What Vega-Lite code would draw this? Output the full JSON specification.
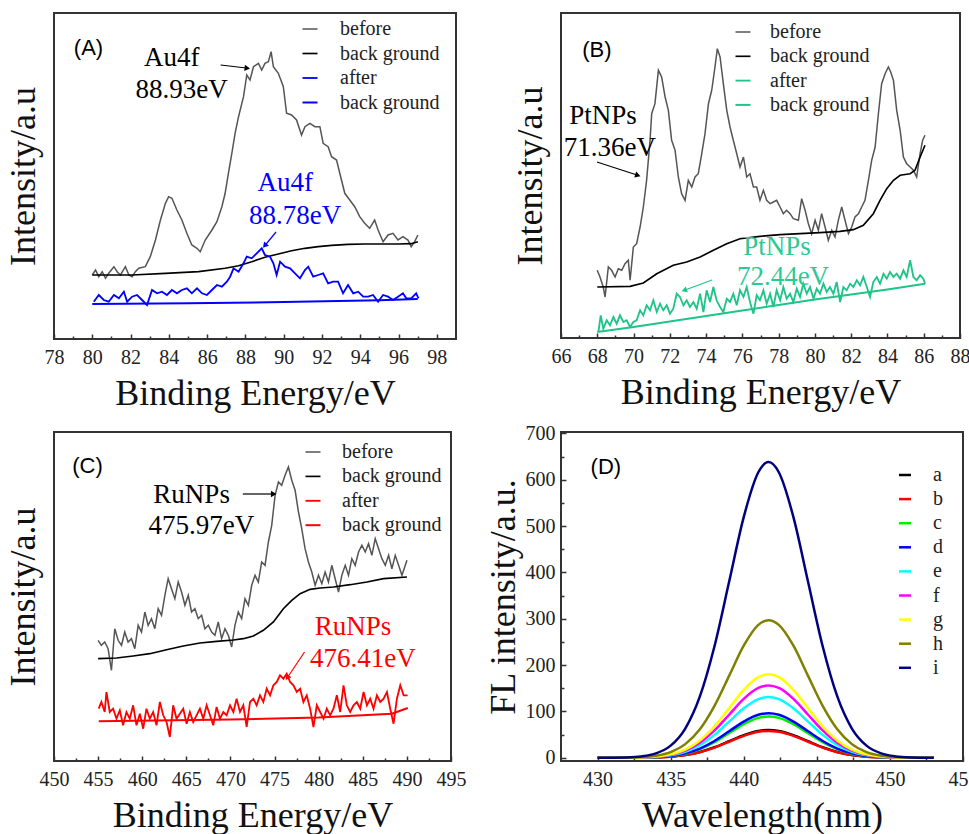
{
"$schema":"https://vega.github.io/schema/vega-lite/v6.json",
"padding":{"left":4,"top":12,"right":0,"bottom":0},
"config":{
 "font":"Liberation Serif",
 "view":{"stroke":"#333333","strokeWidth":2},
 "axis":{"grid":false,"domain":false,"labelFont":"Liberation Serif","labelFontSize":20,"labelColor":"#222222","titleFont":"Liberation Serif","titleFontSize":36,"titleFontWeight":"normal","titleColor":"#111111","tickColor":"#333333","tickWidth":1.5,"labelFlush":false,"labelOverlap":false},
 "legend":{"orient":"none","labelFont":"Liberation Serif","labelFontSize":20,"labelColor":"#222222","symbolType":"stroke","padding":0,"title":null},
 "text":{"font":"Liberation Serif","fontSize":27}
},
"datasets":{
"A":[
{"s":"before","x":80.00,"y":64},{"s":"before","x":80.17,"y":69},{"s":"before","x":80.34,"y":62.3},{"s":"before","x":80.52,"y":67.3},{"s":"before","x":80.69,"y":60.7},{"s":"before","x":80.86,"y":65.7},{"s":"before","x":81.13,"y":72.3},{"s":"before","x":81.30,"y":67.3},{"s":"before","x":81.47,"y":64},{"s":"before","x":81.73,"y":72.3},{"s":"before","x":81.91,"y":64},{"s":"before","x":82.08,"y":62.3},{"s":"before","x":82.25,"y":67.3},{"s":"before","x":82.43,"y":70.7},{"s":"before","x":82.77,"y":72.3},{"s":"before","x":83.03,"y":82.3},{"s":"before","x":83.30,"y":99},{"s":"before","x":83.56,"y":119},{"s":"before","x":83.82,"y":135.7},{"s":"before","x":83.99,"y":142.3},{"s":"before","x":84.16,"y":140.7},{"s":"before","x":84.42,"y":129},{"s":"before","x":84.68,"y":119},{"s":"before","x":84.94,"y":105.7},{"s":"before","x":85.20,"y":94},{"s":"before","x":85.47,"y":90.7},{"s":"before","x":85.64,"y":87.3},{"s":"before","x":85.90,"y":99},{"s":"before","x":86.25,"y":109},{"s":"before","x":86.51,"y":117.3},{"s":"before","x":86.77,"y":132.3},{"s":"before","x":86.94,"y":145.7},{"s":"before","x":87.11,"y":165.7},{"s":"before","x":87.29,"y":185.7},{"s":"before","x":87.46,"y":205.7},{"s":"before","x":87.64,"y":222.3},{"s":"before","x":87.90,"y":242.3},{"s":"before","x":88.07,"y":264},{"s":"before","x":88.24,"y":259},{"s":"before","x":88.42,"y":272.3},{"s":"before","x":88.68,"y":275.7},{"s":"before","x":88.85,"y":269},{"s":"before","x":89.02,"y":275.7},{"s":"before","x":89.20,"y":277.3},{"s":"before","x":89.34,"y":287.3},{"s":"before","x":89.46,"y":272.3},{"s":"before","x":89.72,"y":265.7},{"s":"before","x":89.98,"y":252.3},{"s":"before","x":90.15,"y":225.7},{"s":"before","x":90.41,"y":224},{"s":"before","x":90.67,"y":219},{"s":"before","x":90.93,"y":204},{"s":"before","x":91.11,"y":212.3},{"s":"before","x":91.37,"y":215.7},{"s":"before","x":91.63,"y":212.3},{"s":"before","x":91.89,"y":212.3},{"s":"before","x":92.06,"y":195.7},{"s":"before","x":92.32,"y":192.3},{"s":"before","x":92.50,"y":182.3},{"s":"before","x":92.76,"y":179},{"s":"before","x":92.93,"y":165.7},{"s":"before","x":93.19,"y":145.7},{"s":"before","x":93.45,"y":139},{"s":"before","x":93.71,"y":132.3},{"s":"before","x":93.97,"y":122.3},{"s":"before","x":94.23,"y":115.7},{"s":"before","x":94.49,"y":110.7},{"s":"before","x":94.75,"y":119},{"s":"before","x":94.93,"y":109},{"s":"before","x":95.19,"y":97.3},{"s":"before","x":95.45,"y":104},{"s":"before","x":95.71,"y":105.7},{"s":"before","x":95.97,"y":99},{"s":"before","x":96.23,"y":102.3},{"s":"before","x":96.49,"y":99},{"s":"before","x":96.66,"y":92.3},{"s":"before","x":96.84,"y":97.3},{"s":"before","x":97.01,"y":104},
{"s":"bg","x":80.0,"y":64},{"s":"bg","x":82.08,"y":64},{"s":"bg","x":83.82,"y":65.7},{"s":"bg","x":85.55,"y":67.3},{"s":"bg","x":86.94,"y":70.7},{"s":"bg","x":87.64,"y":73.3},{"s":"bg","x":88.33,"y":77.3},{"s":"bg","x":89.02,"y":81.7},{"s":"bg","x":89.72,"y":85},{"s":"bg","x":90.41,"y":88.3},{"s":"bg","x":91.11,"y":90.7},{"s":"bg","x":91.80,"y":92.3},{"s":"bg","x":92.50,"y":93.7},{"s":"bg","x":93.36,"y":94.7},{"s":"bg","x":94.23,"y":95},{"s":"bg","x":95.10,"y":95},{"s":"bg","x":95.97,"y":95},{"s":"bg","x":96.66,"y":95.3},{"s":"bg","x":97.01,"y":97.3},
{"s":"after","x":80.08,"y":37.3},{"s":"after","x":80.34,"y":44},{"s":"after","x":80.60,"y":39},{"s":"after","x":80.86,"y":37.3},{"s":"after","x":81.13,"y":44},{"s":"after","x":81.39,"y":40.7},{"s":"after","x":81.65,"y":47.3},{"s":"after","x":81.82,"y":37.3},{"s":"after","x":82.08,"y":42.3},{"s":"after","x":82.34,"y":44},{"s":"after","x":82.60,"y":39},{"s":"after","x":82.86,"y":34},{"s":"after","x":83.12,"y":49},{"s":"after","x":83.38,"y":45.7},{"s":"after","x":83.64,"y":47.3},{"s":"after","x":83.90,"y":44},{"s":"after","x":84.16,"y":49},{"s":"after","x":84.42,"y":45.7},{"s":"after","x":84.68,"y":49},{"s":"after","x":84.94,"y":50.7},{"s":"after","x":85.20,"y":45.7},{"s":"after","x":85.47,"y":50.7},{"s":"after","x":85.73,"y":45.7},{"s":"after","x":85.99,"y":44},{"s":"after","x":86.25,"y":49},{"s":"after","x":86.51,"y":54},{"s":"after","x":86.77,"y":52.3},{"s":"after","x":87.03,"y":57.3},{"s":"after","x":87.20,"y":62.3},{"s":"after","x":87.38,"y":70.7},{"s":"after","x":87.64,"y":67.3},{"s":"after","x":87.90,"y":75.7},{"s":"after","x":88.07,"y":82.3},{"s":"after","x":88.33,"y":80.7},{"s":"after","x":88.59,"y":85.7},{"s":"after","x":88.85,"y":90.7},{"s":"after","x":89.02,"y":84},{"s":"after","x":89.28,"y":82.3},{"s":"after","x":89.46,"y":75.7},{"s":"after","x":89.63,"y":64},{"s":"after","x":89.81,"y":77.3},{"s":"after","x":90.07,"y":72.3},{"s":"after","x":90.33,"y":70.7},{"s":"after","x":90.59,"y":65.7},{"s":"after","x":90.85,"y":60.7},{"s":"after","x":91.11,"y":69},{"s":"after","x":91.28,"y":72.3},{"s":"after","x":91.54,"y":62.3},{"s":"after","x":91.80,"y":64},{"s":"after","x":92.06,"y":65.7},{"s":"after","x":92.32,"y":55.7},{"s":"after","x":92.58,"y":57.3},{"s":"after","x":92.84,"y":57.3},{"s":"after","x":93.10,"y":45.7},{"s":"after","x":93.36,"y":54},{"s":"after","x":93.63,"y":45.7},{"s":"after","x":93.89,"y":47.3},{"s":"after","x":94.15,"y":42.3},{"s":"after","x":94.41,"y":42.3},{"s":"after","x":94.67,"y":44},{"s":"after","x":94.93,"y":37.3},{"s":"after","x":95.19,"y":44},{"s":"after","x":95.45,"y":42.3},{"s":"after","x":95.71,"y":39},{"s":"after","x":95.97,"y":42.3},{"s":"after","x":96.23,"y":45.7},{"s":"after","x":96.40,"y":40.7},{"s":"after","x":96.66,"y":40.7},{"s":"after","x":96.92,"y":45.7},{"s":"after","x":97.04,"y":40.7},
{"s":"bg2","x":80.0,"y":35},{"s":"bg2","x":85.0,"y":35.7},{"s":"bg2","x":90.0,"y":37},{"s":"bg2","x":95.0,"y":38.7},{"s":"bg2","x":97.0,"y":40}
],
"Atx":[{"x":84.15,"y":281,"t":"Au4f","g":"before"},{"x":84.67,"y":249,"t":"88.93eV","g":"before"},{"x":90.08,"y":156,"t":"Au4f","g":"after"},{"x":90.6,"y":123,"t":"88.78eV","g":"after"}],
"Aar":[{"x":86.7,"y":274,"x2":88.05,"y2":271,"g":"before"},{"x":89.6,"y":107,"x2":89.04,"y2":94,"g":"after"}],
"B":[
{"s":"before","x":68.00,"y":67.7},{"s":"before","x":68.15,"y":61},{"s":"before","x":68.33,"y":51},{"s":"before","x":68.43,"y":41},{"s":"before","x":68.61,"y":71},{"s":"before","x":68.79,"y":67.7},{"s":"before","x":68.98,"y":61},{"s":"before","x":69.16,"y":69.3},{"s":"before","x":69.35,"y":67.7},{"s":"before","x":69.53,"y":74.3},{"s":"before","x":69.71,"y":77.7},{"s":"before","x":69.81,"y":57.7},{"s":"before","x":69.99,"y":91},{"s":"before","x":70.17,"y":94.3},{"s":"before","x":70.36,"y":111},{"s":"before","x":70.54,"y":131},{"s":"before","x":70.72,"y":157.7},{"s":"before","x":70.91,"y":197.7},{"s":"before","x":71.00,"y":224.3},{"s":"before","x":71.18,"y":234.3},{"s":"before","x":71.37,"y":267.7},{"s":"before","x":71.55,"y":261},{"s":"before","x":71.74,"y":241},{"s":"before","x":71.92,"y":227.7},{"s":"before","x":72.10,"y":197.7},{"s":"before","x":72.29,"y":187.7},{"s":"before","x":72.47,"y":161},{"s":"before","x":72.65,"y":144.3},{"s":"before","x":72.84,"y":137.7},{"s":"before","x":73.02,"y":157.7},{"s":"before","x":73.21,"y":151},{"s":"before","x":73.39,"y":161},{"s":"before","x":73.57,"y":164.3},{"s":"before","x":73.76,"y":184.3},{"s":"before","x":73.94,"y":204.3},{"s":"before","x":74.13,"y":234.3},{"s":"before","x":74.31,"y":247.7},{"s":"before","x":74.49,"y":271},{"s":"before","x":74.62,"y":289.3},{"s":"before","x":74.77,"y":281},{"s":"before","x":74.95,"y":254.3},{"s":"before","x":75.14,"y":227.7},{"s":"before","x":75.32,"y":211},{"s":"before","x":75.50,"y":197.7},{"s":"before","x":75.69,"y":184.3},{"s":"before","x":75.87,"y":171},{"s":"before","x":76.06,"y":181},{"s":"before","x":76.24,"y":161},{"s":"before","x":76.42,"y":164.3},{"s":"before","x":76.61,"y":151},{"s":"before","x":76.79,"y":151},{"s":"before","x":76.97,"y":137.7},{"s":"before","x":77.16,"y":147.7},{"s":"before","x":77.34,"y":137.7},{"s":"before","x":77.53,"y":134.3},{"s":"before","x":77.71,"y":136},{"s":"before","x":77.89,"y":137.7},{"s":"before","x":78.08,"y":131},{"s":"before","x":78.26,"y":124.3},{"s":"before","x":78.44,"y":127.7},{"s":"before","x":78.63,"y":124.3},{"s":"before","x":78.81,"y":119.3},{"s":"before","x":79.09,"y":117.7},{"s":"before","x":79.27,"y":139.3},{"s":"before","x":79.46,"y":127.7},{"s":"before","x":79.64,"y":114.3},{"s":"before","x":79.82,"y":104.3},{"s":"before","x":80.01,"y":117.7},{"s":"before","x":80.19,"y":107.7},{"s":"before","x":80.37,"y":124.3},{"s":"before","x":80.56,"y":111},{"s":"before","x":80.74,"y":97.7},{"s":"before","x":80.93,"y":107.7},{"s":"before","x":81.11,"y":101},{"s":"before","x":81.29,"y":117.7},{"s":"before","x":81.48,"y":131},{"s":"before","x":81.66,"y":117.7},{"s":"before","x":81.85,"y":104.3},{"s":"before","x":82.03,"y":111},{"s":"before","x":82.21,"y":121},{"s":"before","x":82.40,"y":124.3},{"s":"before","x":82.58,"y":131},{"s":"before","x":82.76,"y":137.7},{"s":"before","x":82.95,"y":157.7},{"s":"before","x":83.13,"y":177.7},{"s":"before","x":83.32,"y":191},{"s":"before","x":83.50,"y":224.3},{"s":"before","x":83.68,"y":254.3},{"s":"before","x":83.87,"y":264.3},{"s":"before","x":84.05,"y":271},{"s":"before","x":84.18,"y":266},{"s":"before","x":84.33,"y":257.7},{"s":"before","x":84.51,"y":227.7},{"s":"before","x":84.70,"y":207.7},{"s":"before","x":84.88,"y":181},{"s":"before","x":85.06,"y":174.3},{"s":"before","x":85.25,"y":171},{"s":"before","x":85.43,"y":167.7},{"s":"before","x":85.61,"y":161},{"s":"before","x":85.80,"y":184.3},{"s":"before","x":85.94,"y":197.7},{"s":"before","x":86.07,"y":202.7},
{"s":"bg","x":68.00,"y":51},{"s":"bg","x":69.81,"y":51.7},{"s":"bg","x":70.54,"y":55},{"s":"bg","x":71.28,"y":64.3},{"s":"bg","x":72.19,"y":72.7},{"s":"bg","x":72.93,"y":76},{"s":"bg","x":73.67,"y":81},{"s":"bg","x":74.40,"y":87.7},{"s":"bg","x":75.14,"y":94.3},{"s":"bg","x":75.87,"y":99.3},{"s":"bg","x":76.97,"y":101.7},{"s":"bg","x":78.08,"y":103.3},{"s":"bg","x":79.18,"y":104.3},{"s":"bg","x":80.28,"y":105.3},{"s":"bg","x":81.39,"y":106.7},{"s":"bg","x":82.12,"y":108.3},{"s":"bg","x":82.67,"y":112.7},{"s":"bg","x":83.22,"y":124.3},{"s":"bg","x":83.59,"y":137.7},{"s":"bg","x":83.96,"y":149.3},{"s":"bg","x":84.33,"y":157.7},{"s":"bg","x":84.70,"y":162.7},{"s":"bg","x":85.25,"y":164.3},{"s":"bg","x":85.52,"y":167.7},{"s":"bg","x":85.80,"y":181},{"s":"bg","x":86.07,"y":192.7},
{"s":"after","x":68.06,"y":6},{"s":"after","x":68.19,"y":22.7},{"s":"after","x":68.33,"y":9.3},{"s":"after","x":68.52,"y":17.7},{"s":"after","x":68.70,"y":12.7},{"s":"after","x":68.89,"y":21},{"s":"after","x":69.07,"y":14.3},{"s":"after","x":69.25,"y":22.7},{"s":"after","x":69.44,"y":16},{"s":"after","x":69.62,"y":17.7},{"s":"after","x":69.81,"y":11},{"s":"after","x":69.99,"y":16},{"s":"after","x":70.17,"y":17.7},{"s":"after","x":70.36,"y":27.7},{"s":"after","x":70.54,"y":22.7},{"s":"after","x":70.72,"y":32.7},{"s":"after","x":70.91,"y":27.7},{"s":"after","x":71.09,"y":37.7},{"s":"after","x":71.28,"y":26},{"s":"after","x":71.46,"y":34.3},{"s":"after","x":71.64,"y":27.7},{"s":"after","x":71.83,"y":32.7},{"s":"after","x":72.01,"y":24.3},{"s":"after","x":72.19,"y":29.3},{"s":"after","x":72.38,"y":44.3},{"s":"after","x":72.56,"y":41},{"s":"after","x":72.75,"y":32.7},{"s":"after","x":72.93,"y":37.7},{"s":"after","x":73.11,"y":31},{"s":"after","x":73.30,"y":36},{"s":"after","x":73.48,"y":29.3},{"s":"after","x":73.67,"y":44.3},{"s":"after","x":73.85,"y":26},{"s":"after","x":74.03,"y":47.7},{"s":"after","x":74.22,"y":36},{"s":"after","x":74.40,"y":51},{"s":"after","x":74.58,"y":37.7},{"s":"after","x":74.77,"y":31},{"s":"after","x":74.95,"y":26},{"s":"after","x":75.14,"y":39.3},{"s":"after","x":75.32,"y":36},{"s":"after","x":75.50,"y":44.3},{"s":"after","x":75.69,"y":32.7},{"s":"after","x":75.87,"y":47.7},{"s":"after","x":76.06,"y":41},{"s":"after","x":76.24,"y":51},{"s":"after","x":76.42,"y":36},{"s":"after","x":76.61,"y":24.3},{"s":"after","x":76.79,"y":42.7},{"s":"after","x":76.97,"y":37.7},{"s":"after","x":77.16,"y":47.7},{"s":"after","x":77.34,"y":34.3},{"s":"after","x":77.53,"y":44.3},{"s":"after","x":77.71,"y":31},{"s":"after","x":77.89,"y":47.7},{"s":"after","x":78.08,"y":37.7},{"s":"after","x":78.26,"y":51},{"s":"after","x":78.44,"y":39.3},{"s":"after","x":78.63,"y":44.3},{"s":"after","x":78.81,"y":36},{"s":"after","x":79.00,"y":49.3},{"s":"after","x":79.18,"y":41},{"s":"after","x":79.36,"y":54.3},{"s":"after","x":79.55,"y":44.3},{"s":"after","x":79.73,"y":51},{"s":"after","x":79.92,"y":39.3},{"s":"after","x":80.10,"y":49.3},{"s":"after","x":80.28,"y":44.3},{"s":"after","x":80.47,"y":54.3},{"s":"after","x":80.65,"y":46},{"s":"after","x":80.83,"y":51},{"s":"after","x":81.02,"y":44.3},{"s":"after","x":81.20,"y":56},{"s":"after","x":81.39,"y":36},{"s":"after","x":81.57,"y":51},{"s":"after","x":81.75,"y":47.7},{"s":"after","x":81.94,"y":54.3},{"s":"after","x":82.12,"y":51},{"s":"after","x":82.31,"y":57.7},{"s":"after","x":82.49,"y":52.7},{"s":"after","x":82.67,"y":61},{"s":"after","x":82.86,"y":51},{"s":"after","x":83.04,"y":41},{"s":"after","x":83.22,"y":56},{"s":"after","x":83.41,"y":61},{"s":"after","x":83.59,"y":54.3},{"s":"after","x":83.78,"y":64.3},{"s":"after","x":83.96,"y":59.3},{"s":"after","x":84.14,"y":66},{"s":"after","x":84.33,"y":61},{"s":"after","x":84.51,"y":64.3},{"s":"after","x":84.70,"y":59.3},{"s":"after","x":84.88,"y":67.7},{"s":"after","x":85.06,"y":61},{"s":"after","x":85.25,"y":77.7},{"s":"after","x":85.43,"y":61},{"s":"after","x":85.61,"y":57.7},{"s":"after","x":85.80,"y":62.7},{"s":"after","x":85.98,"y":59.3},{"s":"after","x":86.07,"y":54.3},
{"s":"bg2","x":68.0,"y":6},{"s":"bg2","x":70.0,"y":11},{"s":"bg2","x":72.0,"y":16.5},{"s":"bg2","x":74.0,"y":22},{"s":"bg2","x":76.0,"y":27.5},{"s":"bg2","x":78.0,"y":33},{"s":"bg2","x":80.0,"y":38.5},{"s":"bg2","x":82.0,"y":43.5},{"s":"bg2","x":84.0,"y":48.5},{"s":"bg2","x":86.07,"y":54.3}
],
"Btx":[{"x":68.32,"y":222,"t":"PtNPs","g":"before"},{"x":68.7,"y":190,"t":"71.36eV","g":"before"},{"x":77.91,"y":91,"t":"PtNPs","g":"after"},{"x":78.24,"y":61,"t":"72.44eV","g":"after"}],
"Bar":[{"x":67.98,"y":176,"x2":70.19,"y2":163,"g":"before"},{"x":74.33,"y":58,"x2":72.84,"y2":48,"g":"after"}],
"C":[
{"s":"before","x":455.00,"y":120.7},{"s":"before","x":455.37,"y":115.7},{"s":"before","x":455.75,"y":119},{"s":"before","x":456.13,"y":112.3},{"s":"before","x":456.51,"y":90.7},{"s":"before","x":456.89,"y":132.3},{"s":"before","x":457.27,"y":120.7},{"s":"before","x":457.65,"y":115.7},{"s":"before","x":458.02,"y":129},{"s":"before","x":458.40,"y":119},{"s":"before","x":458.78,"y":122.3},{"s":"before","x":459.16,"y":112.3},{"s":"before","x":459.54,"y":135.7},{"s":"before","x":459.92,"y":129},{"s":"before","x":460.30,"y":149},{"s":"before","x":460.67,"y":135.7},{"s":"before","x":461.05,"y":142.3},{"s":"before","x":461.43,"y":132.3},{"s":"before","x":461.81,"y":152.3},{"s":"before","x":462.19,"y":145.7},{"s":"before","x":462.57,"y":165.7},{"s":"before","x":462.94,"y":182.3},{"s":"before","x":463.32,"y":172.3},{"s":"before","x":463.70,"y":162.3},{"s":"before","x":464.08,"y":179},{"s":"before","x":464.46,"y":169},{"s":"before","x":464.84,"y":155.7},{"s":"before","x":465.22,"y":165.7},{"s":"before","x":465.59,"y":149},{"s":"before","x":465.97,"y":152.3},{"s":"before","x":466.35,"y":142.3},{"s":"before","x":466.73,"y":145.7},{"s":"before","x":467.11,"y":132.3},{"s":"before","x":467.49,"y":135.7},{"s":"before","x":467.87,"y":129},{"s":"before","x":468.24,"y":125.7},{"s":"before","x":468.62,"y":139},{"s":"before","x":469.00,"y":122.3},{"s":"before","x":469.38,"y":132.3},{"s":"before","x":469.76,"y":125.7},{"s":"before","x":470.14,"y":114},{"s":"before","x":470.51,"y":135.7},{"s":"before","x":470.89,"y":149},{"s":"before","x":471.27,"y":142.3},{"s":"before","x":471.65,"y":162.3},{"s":"before","x":472.03,"y":155.7},{"s":"before","x":472.41,"y":175.7},{"s":"before","x":472.79,"y":185.7},{"s":"before","x":473.16,"y":179},{"s":"before","x":473.54,"y":199},{"s":"before","x":473.92,"y":195.7},{"s":"before","x":474.30,"y":219},{"s":"before","x":474.68,"y":235.7},{"s":"before","x":475.06,"y":265.7},{"s":"before","x":475.44,"y":279},{"s":"before","x":475.81,"y":275.7},{"s":"before","x":476.19,"y":285.7},{"s":"before","x":476.57,"y":294},{"s":"before","x":476.95,"y":280.7},{"s":"before","x":477.33,"y":270.7},{"s":"before","x":477.71,"y":249},{"s":"before","x":478.08,"y":232.3},{"s":"before","x":478.46,"y":212.3},{"s":"before","x":478.84,"y":199},{"s":"before","x":479.22,"y":189},{"s":"before","x":479.60,"y":175.7},{"s":"before","x":479.98,"y":185.7},{"s":"before","x":480.36,"y":177.3},{"s":"before","x":480.73,"y":189},{"s":"before","x":481.11,"y":179},{"s":"before","x":481.49,"y":195.7},{"s":"before","x":481.87,"y":182.3},{"s":"before","x":482.25,"y":169},{"s":"before","x":482.63,"y":185.7},{"s":"before","x":483.01,"y":195.7},{"s":"before","x":483.38,"y":185.7},{"s":"before","x":483.76,"y":202.3},{"s":"before","x":484.14,"y":195.7},{"s":"before","x":484.52,"y":209},{"s":"before","x":484.90,"y":215.7},{"s":"before","x":485.28,"y":209},{"s":"before","x":485.65,"y":217.3},{"s":"before","x":486.03,"y":205.7},{"s":"before","x":486.41,"y":222.3},{"s":"before","x":486.79,"y":212.3},{"s":"before","x":487.17,"y":202.3},{"s":"before","x":487.55,"y":195.7},{"s":"before","x":487.93,"y":205.7},{"s":"before","x":488.30,"y":192.3},{"s":"before","x":488.68,"y":205.7},{"s":"before","x":489.06,"y":195.7},{"s":"before","x":489.44,"y":185.7},{"s":"before","x":489.82,"y":195.7},{"s":"before","x":490.01,"y":200.7},
{"s":"bg","x":455.0,"y":102.3},{"s":"bg","x":457.08,"y":103},{"s":"bg","x":458.97,"y":105},{"s":"bg","x":460.86,"y":107.3},{"s":"bg","x":462.76,"y":111.3},{"s":"bg","x":464.65,"y":115},{"s":"bg","x":466.54,"y":118},{"s":"bg","x":468.43,"y":119.7},{"s":"bg","x":470.33,"y":121},{"s":"bg","x":471.46,"y":122.3},{"s":"bg","x":472.60,"y":125},{"s":"bg","x":473.73,"y":130.7},{"s":"bg","x":474.87,"y":139},{"s":"bg","x":476.00,"y":152.3},{"s":"bg","x":476.95,"y":160.7},{"s":"bg","x":477.90,"y":167.3},{"s":"bg","x":479.03,"y":171.7},{"s":"bg","x":480.17,"y":173},{"s":"bg","x":481.68,"y":174},{"s":"bg","x":483.57,"y":176.3},{"s":"bg","x":485.47,"y":179},{"s":"bg","x":487.36,"y":182.3},{"s":"bg","x":490.01,"y":184},
{"s":"after","x":455.07,"y":52.3},{"s":"after","x":455.37,"y":59},{"s":"after","x":455.75,"y":49},{"s":"after","x":455.94,"y":69},{"s":"after","x":456.32,"y":49},{"s":"after","x":456.70,"y":52.3},{"s":"after","x":457.08,"y":42.3},{"s":"after","x":457.46,"y":50.7},{"s":"after","x":457.83,"y":35.7},{"s":"after","x":458.21,"y":49},{"s":"after","x":458.59,"y":42.3},{"s":"after","x":458.97,"y":55.7},{"s":"after","x":459.35,"y":35.7},{"s":"after","x":459.73,"y":47.3},{"s":"after","x":460.11,"y":32.3},{"s":"after","x":460.48,"y":52.3},{"s":"after","x":460.86,"y":42.3},{"s":"after","x":461.24,"y":49},{"s":"after","x":461.62,"y":35.7},{"s":"after","x":462.00,"y":59},{"s":"after","x":462.38,"y":45.7},{"s":"after","x":462.76,"y":39},{"s":"after","x":463.13,"y":24},{"s":"after","x":463.51,"y":55.7},{"s":"after","x":463.89,"y":42.3},{"s":"after","x":464.27,"y":47.3},{"s":"after","x":464.65,"y":52.3},{"s":"after","x":465.03,"y":37.3},{"s":"after","x":465.40,"y":49},{"s":"after","x":465.78,"y":39},{"s":"after","x":466.16,"y":45.7},{"s":"after","x":466.54,"y":52.3},{"s":"after","x":466.92,"y":42.3},{"s":"after","x":467.30,"y":55.7},{"s":"after","x":467.68,"y":45.7},{"s":"after","x":468.05,"y":35.7},{"s":"after","x":468.43,"y":54},{"s":"after","x":468.81,"y":42.3},{"s":"after","x":469.19,"y":49},{"s":"after","x":469.57,"y":45.7},{"s":"after","x":469.95,"y":55.7},{"s":"after","x":470.33,"y":49},{"s":"after","x":470.70,"y":62.3},{"s":"after","x":471.08,"y":49},{"s":"after","x":471.46,"y":55.7},{"s":"after","x":471.84,"y":34},{"s":"after","x":472.22,"y":59},{"s":"after","x":472.60,"y":62.3},{"s":"after","x":472.97,"y":55.7},{"s":"after","x":473.35,"y":65.7},{"s":"after","x":473.73,"y":59},{"s":"after","x":474.11,"y":72.3},{"s":"after","x":474.49,"y":65.7},{"s":"after","x":474.87,"y":75.7},{"s":"after","x":475.25,"y":79},{"s":"after","x":475.62,"y":85.7},{"s":"after","x":476.00,"y":82.3},{"s":"after","x":476.38,"y":87.3},{"s":"after","x":476.76,"y":79},{"s":"after","x":477.14,"y":75.7},{"s":"after","x":477.52,"y":69},{"s":"after","x":477.90,"y":72.3},{"s":"after","x":478.27,"y":59},{"s":"after","x":478.65,"y":65.7},{"s":"after","x":479.03,"y":52.3},{"s":"after","x":479.41,"y":34},{"s":"after","x":479.79,"y":55.7},{"s":"after","x":480.17,"y":49},{"s":"after","x":480.55,"y":42.3},{"s":"after","x":480.92,"y":52.3},{"s":"after","x":481.30,"y":45.7},{"s":"after","x":481.68,"y":52.3},{"s":"after","x":482.06,"y":65.7},{"s":"after","x":482.44,"y":49},{"s":"after","x":482.82,"y":75.7},{"s":"after","x":483.19,"y":55.7},{"s":"after","x":483.57,"y":49},{"s":"after","x":483.95,"y":55.7},{"s":"after","x":484.33,"y":59},{"s":"after","x":484.71,"y":52.3},{"s":"after","x":485.09,"y":69},{"s":"after","x":485.47,"y":55.7},{"s":"after","x":485.84,"y":62.3},{"s":"after","x":486.22,"y":52.3},{"s":"after","x":486.60,"y":65.7},{"s":"after","x":486.98,"y":59},{"s":"after","x":487.36,"y":62.3},{"s":"after","x":487.74,"y":69},{"s":"after","x":488.11,"y":52.3},{"s":"after","x":488.49,"y":37.3},{"s":"after","x":488.87,"y":62.3},{"s":"after","x":489.25,"y":75.7},{"s":"after","x":489.63,"y":65.7},{"s":"after","x":490.08,"y":65.7},
{"s":"bg2","x":455.07,"y":39.7},{"s":"bg2","x":470.0,"y":41.5},{"s":"bg2","x":480.0,"y":43.5},{"s":"bg2","x":488.3,"y":47.3},{"s":"bg2","x":490.1,"y":53}
],
"Ctx":[{"x":465.6,"y":266,"t":"RuNPs","g":"before"},{"x":466.7,"y":235,"t":"475.97eV","g":"before"},{"x":483.9,"y":134,"t":"RuNPs","g":"after"},{"x":485.0,"y":102,"t":"476.41eV","g":"after"}],
"Car":[{"x":471.4,"y":267,"x2":474.8,"y2":267,"g":"before"},{"x":478.4,"y":109,"x2":476.5,"y2":84,"g":"after"}],
"D":[
{"s":"a","x":430,"y":0},{"s":"a","x":432,"y":0.1},{"s":"a","x":433,"y":0.3},{"s":"a","x":434,"y":0.9},{"s":"a","x":435,"y":2.5},{"s":"a","x":436,"y":5.9},{"s":"a","x":437,"y":12.5},{"s":"a","x":438,"y":22.6},{"s":"a","x":439,"y":35.7},{"s":"a","x":440,"y":48.8},{"s":"a","x":441,"y":57.9},{"s":"a","x":441.7,"y":60},{"s":"a","x":442.4,"y":57.9},{"s":"a","x":443.4,"y":48.8},{"s":"a","x":444.4,"y":35.7},{"s":"a","x":445.4,"y":22.6},{"s":"a","x":446.4,"y":12.5},{"s":"a","x":447.4,"y":5.9},{"s":"a","x":448.4,"y":2.5},{"s":"a","x":449.4,"y":0.9},{"s":"a","x":450.4,"y":0.3},{"s":"a","x":451.4,"y":0.1},{"s":"a","x":453,"y":0},
{"s":"b","x":430,"y":0},{"s":"b","x":432,"y":0.1},{"s":"b","x":433,"y":0.3},{"s":"b","x":434,"y":0.9},{"s":"b","x":435,"y":2.4},{"s":"b","x":436,"y":5.7},{"s":"b","x":437,"y":12.0},{"s":"b","x":438,"y":21.9},{"s":"b","x":439,"y":34.5},{"s":"b","x":440,"y":47.2},{"s":"b","x":441,"y":56.0},{"s":"b","x":441.7,"y":58},{"s":"b","x":442.4,"y":56.0},{"s":"b","x":443.4,"y":47.2},{"s":"b","x":444.4,"y":34.5},{"s":"b","x":445.4,"y":21.9},{"s":"b","x":446.4,"y":12.0},{"s":"b","x":447.4,"y":5.7},{"s":"b","x":448.4,"y":2.4},{"s":"b","x":449.4,"y":0.9},{"s":"b","x":450.4,"y":0.3},{"s":"b","x":451.4,"y":0.1},{"s":"b","x":453,"y":0},
{"s":"c","x":430,"y":0},{"s":"c","x":432,"y":0.1},{"s":"c","x":433,"y":0.4},{"s":"c","x":434,"y":1.3},{"s":"c","x":435,"y":3.6},{"s":"c","x":436,"y":8.8},{"s":"c","x":437,"y":18.5},{"s":"c","x":438,"y":33.6},{"s":"c","x":439,"y":53.0},{"s":"c","x":440,"y":72.4},{"s":"c","x":441,"y":86.0},{"s":"c","x":441.7,"y":89},{"s":"c","x":442.4,"y":86.0},{"s":"c","x":443.4,"y":72.4},{"s":"c","x":444.4,"y":53.0},{"s":"c","x":445.4,"y":33.6},{"s":"c","x":446.4,"y":18.5},{"s":"c","x":447.4,"y":8.8},{"s":"c","x":448.4,"y":3.6},{"s":"c","x":449.4,"y":1.3},{"s":"c","x":450.4,"y":0.4},{"s":"c","x":451.4,"y":0.1},{"s":"c","x":453,"y":0},
{"s":"d","x":430,"y":0},{"s":"d","x":432,"y":0.1},{"s":"d","x":433,"y":0.4},{"s":"d","x":434,"y":1.4},{"s":"d","x":435,"y":3.9},{"s":"d","x":436,"y":9.5},{"s":"d","x":437,"y":19.9},{"s":"d","x":438,"y":36.2},{"s":"d","x":439,"y":57.1},{"s":"d","x":440,"y":78.1},{"s":"d","x":441,"y":92.7},{"s":"d","x":441.7,"y":96},{"s":"d","x":442.4,"y":92.7},{"s":"d","x":443.4,"y":78.1},{"s":"d","x":444.4,"y":57.1},{"s":"d","x":445.4,"y":36.2},{"s":"d","x":446.4,"y":19.9},{"s":"d","x":447.4,"y":9.5},{"s":"d","x":448.4,"y":3.9},{"s":"d","x":449.4,"y":1.4},{"s":"d","x":450.4,"y":0.4},{"s":"d","x":451.4,"y":0.1},{"s":"d","x":453,"y":0},
{"s":"e","x":430,"y":0},{"s":"e","x":432,"y":0.2},{"s":"e","x":433,"y":0.6},{"s":"e","x":434,"y":1.9},{"s":"e","x":435,"y":5.4},{"s":"e","x":436,"y":13.0},{"s":"e","x":437,"y":27.2},{"s":"e","x":438,"y":49.4},{"s":"e","x":439,"y":78.0},{"s":"e","x":440,"y":106.6},{"s":"e","x":441,"y":126.5},{"s":"e","x":441.7,"y":131},{"s":"e","x":442.4,"y":126.5},{"s":"e","x":443.4,"y":106.6},{"s":"e","x":444.4,"y":78.0},{"s":"e","x":445.4,"y":49.4},{"s":"e","x":446.4,"y":27.2},{"s":"e","x":447.4,"y":13.0},{"s":"e","x":448.4,"y":5.4},{"s":"e","x":449.4,"y":1.9},{"s":"e","x":450.4,"y":0.6},{"s":"e","x":451.4,"y":0.2},{"s":"e","x":453,"y":0},
{"s":"f","x":430,"y":0},{"s":"f","x":432,"y":0.2},{"s":"f","x":433,"y":0.7},{"s":"f","x":434,"y":2.3},{"s":"f","x":435,"y":6.4},{"s":"f","x":436,"y":15.4},{"s":"f","x":437,"y":32.4},{"s":"f","x":438,"y":58.9},{"s":"f","x":439,"y":92.8},{"s":"f","x":440,"y":127.0},{"s":"f","x":441,"y":150.6},{"s":"f","x":441.7,"y":156},{"s":"f","x":442.4,"y":150.6},{"s":"f","x":443.4,"y":127.0},{"s":"f","x":444.4,"y":92.8},{"s":"f","x":445.4,"y":58.9},{"s":"f","x":446.4,"y":32.4},{"s":"f","x":447.4,"y":15.4},{"s":"f","x":448.4,"y":6.4},{"s":"f","x":449.4,"y":2.3},{"s":"f","x":450.4,"y":0.7},{"s":"f","x":451.4,"y":0.2},{"s":"f","x":453,"y":0},
{"s":"g","x":430,"y":0},{"s":"g","x":432,"y":0.2},{"s":"g","x":433,"y":0.8},{"s":"g","x":434,"y":2.6},{"s":"g","x":435,"y":7.4},{"s":"g","x":436,"y":17.8},{"s":"g","x":437,"y":37.4},{"s":"g","x":438,"y":67.9},{"s":"g","x":439,"y":107.1},{"s":"g","x":440,"y":146.5},{"s":"g","x":441,"y":173.8},{"s":"g","x":441.7,"y":180},{"s":"g","x":442.4,"y":173.8},{"s":"g","x":443.4,"y":146.5},{"s":"g","x":444.4,"y":107.1},{"s":"g","x":445.4,"y":67.9},{"s":"g","x":446.4,"y":37.4},{"s":"g","x":447.4,"y":17.8},{"s":"g","x":448.4,"y":7.4},{"s":"g","x":449.4,"y":2.6},{"s":"g","x":450.4,"y":0.8},{"s":"g","x":451.4,"y":0.2},{"s":"g","x":453,"y":0},
{"s":"h","x":430,"y":0},{"s":"h","x":432,"y":0.4},{"s":"h","x":433,"y":1.4},{"s":"h","x":434,"y":4.4},{"s":"h","x":435,"y":12.2},{"s":"h","x":436,"y":29.4},{"s":"h","x":437,"y":61.6},{"s":"h","x":438,"y":112.1},{"s":"h","x":439,"y":176.7},{"s":"h","x":440,"y":241.8},{"s":"h","x":441,"y":286.8},{"s":"h","x":441.7,"y":297},{"s":"h","x":442.4,"y":286.8},{"s":"h","x":443.4,"y":241.8},{"s":"h","x":444.4,"y":176.7},{"s":"h","x":445.4,"y":112.1},{"s":"h","x":446.4,"y":61.6},{"s":"h","x":447.4,"y":29.4},{"s":"h","x":448.4,"y":12.2},{"s":"h","x":449.4,"y":4.4},{"s":"h","x":450.4,"y":1.4},{"s":"h","x":451.4,"y":0.4},{"s":"h","x":453,"y":0},
{"s":"i","x":430,"y":0},{"s":"i","x":432,"y":0.8},{"s":"i","x":433,"y":2.9},{"s":"i","x":434,"y":9.4},{"s":"i","x":435,"y":26.1},{"s":"i","x":436,"y":63.1},{"s":"i","x":437,"y":132.4},{"s":"i","x":438,"y":240.7},{"s":"i","x":439,"y":379.7},{"s":"i","x":440,"y":519.3},{"s":"i","x":441,"y":616.1},{"s":"i","x":441.7,"y":638},{"s":"i","x":442.4,"y":616.1},{"s":"i","x":443.4,"y":519.3},{"s":"i","x":444.4,"y":379.7},{"s":"i","x":445.4,"y":240.7},{"s":"i","x":446.4,"y":132.4},{"s":"i","x":447.4,"y":63.1},{"s":"i","x":448.4,"y":26.1},{"s":"i","x":449.4,"y":9.4},{"s":"i","x":450.4,"y":2.9},{"s":"i","x":451.4,"y":0.8},{"s":"i","x":453,"y":0}
]
},
"resolve":{"scale":{"x":"independent","y":"independent","color":"independent","fill":"independent","stroke":"independent","strokeWidth":"independent"},"legend":{"color":"independent"}},
"bounds":"flush",
"columns":2,
"spacing":{"row":93,"column":105},
"concat":[
 {"width":402,"height":326,
  "resolve":{"axis":{"x":"independent","y":"independent"}},
  "layer":[
   {"data":{"name":"A"},"mark":{"type":"line"},
    "encoding":{
     "x":{"field":"x","type":"quantitative","scale":{"domain":[78,99],"nice":false,"zero":false},"axis":{"orient":"bottom","values":[78,80,82,84,86,88,90,92,94,96,98],"title":"Binding Energy/eV","tickSize":-5,"labelPadding":13.5,"titlePadding":9}},
     "y":{"field":"y","type":"quantitative","scale":{"domain":[0,326],"nice":false,"zero":false},"axis":{"orient":"left","title":"Intensity/a.u","labels":false,"ticks":false,"tickSize":0,"titlePadding":12}},
     "color":{"field":"s","type":"nominal","scale":{"domain":["before","bg","after","bg2"],"range":["#555555","#000000","#0000ff","#0000ff"]},"legend":{"labelExpr":"datum.label == 'bg' || datum.label == 'bg2' ? 'back ground' : datum.label","legendX":246,"legendY":6,"symbolSize":225,"symbolStrokeWidth":2,"labelOffset":20,"rowPadding":4.5}},
     "strokeWidth":{"field":"s","type":"nominal","scale":{"domain":["before","bg","after","bg2"],"range":[1.5,2,1.5,2]},"legend":null}}},
   {"data":{"values":[{"x":79.8,"y":291,"t":"(A)"}]},"mark":{"type":"text","font":"Liberation Sans","fontSize":22,"color":"#000000"},
    "encoding":{"x":{"field":"x","type":"quantitative","axis":{"orient":"bottom","values":[79,81,83,85,87,89,91,93,95,97],"labels":false,"title":null,"tickSize":-3}},"y":{"field":"y","type":"quantitative","axis":null},"text":{"field":"t"}}},
   {"data":{"name":"Atx"},"mark":{"type":"text"},
    "encoding":{"x":{"field":"x","type":"quantitative","axis":null},"y":{"field":"y","type":"quantitative","axis":null},"text":{"field":"t"},"fill":{"field":"g","type":"nominal","scale":{"domain":["before","after"],"range":["#000000","#0000ff"]},"legend":null}}},
   {"data":{"name":"Aar"},"mark":{"type":"rule","strokeWidth":1.2},
    "encoding":{"x":{"field":"x","type":"quantitative","axis":null},"y":{"field":"y","type":"quantitative","axis":null},"x2":{"field":"x2"},"y2":{"field":"y2"},"stroke":{"field":"g","type":"nominal","scale":{"domain":["before","after"],"range":["#000000","#0000ff"]},"legend":null}}},
   {"data":{"name":"Aar"},"transform":[{"filter":"datum.g == 'before'"}],"mark":{"type":"point","shape":"triangle","angle":96.6,"filled":true,"size":40,"color":"#000000","opacity":1},
    "encoding":{"x":{"field":"x2","type":"quantitative","axis":null},"y":{"field":"y2","type":"quantitative","axis":null}}},
   {"data":{"name":"Aar"},"transform":[{"filter":"datum.g == 'after'"}],"mark":{"type":"point","shape":"triangle","angle":220,"filled":true,"size":40,"color":"#0000ff","opacity":1},
    "encoding":{"x":{"field":"x2","type":"quantitative","axis":null},"y":{"field":"y2","type":"quantitative","axis":null}}}
  ]},
 {"width":399,"height":325,
  "resolve":{"axis":{"x":"independent","y":"independent"}},
  "layer":[
   {"data":{"name":"B"},"mark":{"type":"line"},
    "encoding":{
     "x":{"field":"x","type":"quantitative","scale":{"domain":[66,88],"nice":false,"zero":false},"axis":{"orient":"bottom","values":[66,68,70,72,74,76,78,80,82,84,86,88],"title":"Binding Energy/eV","tickSize":-5,"labelPadding":13.5,"titlePadding":9}},
     "y":{"field":"y","type":"quantitative","scale":{"domain":[0,325],"nice":false,"zero":false},"axis":{"orient":"left","title":"Intensity/a.u","labels":false,"ticks":false,"tickSize":0,"titlePadding":12}},
     "color":{"field":"s","type":"nominal","scale":{"domain":["before","bg","after","bg2"],"range":["#555555","#000000","#1ec488","#1ec488"]},"legend":{"labelExpr":"datum.label == 'bg' || datum.label == 'bg2' ? 'back ground' : datum.label","legendX":172,"legendY":9,"symbolSize":225,"symbolStrokeWidth":2,"labelOffset":17,"rowPadding":4.3}},
     "strokeWidth":{"field":"s","type":"nominal","scale":{"domain":["before","bg","after","bg2"],"range":[1.5,2,1.5,2]},"legend":null}}},
   {"data":{"values":[{"x":67.98,"y":288,"t":"(B)"}]},"mark":{"type":"text","font":"Liberation Sans","fontSize":22,"color":"#000000"},
    "encoding":{"x":{"field":"x","type":"quantitative","axis":{"orient":"bottom","values":[67,69,71,73,75,77,79,81,83,85,87],"labels":false,"title":null,"tickSize":-3}},"y":{"field":"y","type":"quantitative","axis":null},"text":{"field":"t"}}},
   {"data":{"name":"Btx"},"mark":{"type":"text"},
    "encoding":{"x":{"field":"x","type":"quantitative","axis":null},"y":{"field":"y","type":"quantitative","axis":null},"text":{"field":"t"},"fill":{"field":"g","type":"nominal","scale":{"domain":["before","after"],"range":["#000000","#2cc994"]},"legend":null}}},
   {"data":{"name":"Bar"},"mark":{"type":"rule","strokeWidth":1.2},
    "encoding":{"x":{"field":"x","type":"quantitative","axis":null},"y":{"field":"y","type":"quantitative","axis":null},"x2":{"field":"x2"},"y2":{"field":"y2"},"stroke":{"field":"g","type":"nominal","scale":{"domain":["before","after"],"range":["#000000","#1ec488"]},"legend":null}}},
   {"data":{"name":"Bar"},"transform":[{"filter":"datum.g == 'before'"}],"mark":{"type":"point","shape":"triangle","angle":108,"filled":true,"size":40,"color":"#000000","opacity":1},
    "encoding":{"x":{"field":"x2","type":"quantitative","axis":null},"y":{"field":"y2","type":"quantitative","axis":null}}},
   {"data":{"name":"Bar"},"transform":[{"filter":"datum.g == 'after'"}],"mark":{"type":"point","shape":"triangle","angle":249.7,"filled":true,"size":40,"color":"#1ec488","opacity":1},
    "encoding":{"x":{"field":"x2","type":"quantitative","axis":null},"y":{"field":"y2","type":"quantitative","axis":null}}}
  ]},
 {"width":397,"height":329,
  "resolve":{"axis":{"x":"independent","y":"independent"}},
  "layer":[
   {"data":{"name":"C"},"mark":{"type":"line"},
    "encoding":{
     "x":{"field":"x","type":"quantitative","scale":{"domain":[450,495],"nice":false,"zero":false},"axis":{"orient":"bottom","values":[450,455,460,465,470,475,480,485,490,495],"title":"Binding Energy/eV","tickSize":-5,"labelPadding":13.5,"titlePadding":9}},
     "y":{"field":"y","type":"quantitative","scale":{"domain":[0,329],"nice":false,"zero":false},"axis":{"orient":"left","title":"Intensity/a.u","labels":false,"ticks":false,"tickSize":0,"titlePadding":12}},
     "color":{"field":"s","type":"nominal","scale":{"domain":["before","bg","after","bg2"],"range":["#555555","#000000","#ff0000","#ff0000"]},"legend":{"labelExpr":"datum.label == 'bg' || datum.label == 'bg2' ? 'back ground' : datum.label","legendX":249,"legendY":10,"symbolSize":225,"symbolStrokeWidth":2,"labelOffset":19,"rowPadding":4.4}},
     "strokeWidth":{"field":"s","type":"nominal","scale":{"domain":["before","bg","after","bg2"],"range":[1.5,2,1.5,2]},"legend":null}}},
   {"data":{"values":[{"x":453.8,"y":295,"t":"(C)"}]},"mark":{"type":"text","font":"Liberation Sans","fontSize":22,"color":"#000000"},
    "encoding":{"x":{"field":"x","type":"quantitative","axis":{"orient":"bottom","values":[452.5,457.5,462.5,467.5,472.5,477.5,482.5,487.5,492.5],"labels":false,"title":null,"tickSize":-3}},"y":{"field":"y","type":"quantitative","axis":null},"text":{"field":"t"}}},
   {"data":{"name":"Ctx"},"mark":{"type":"text"},
    "encoding":{"x":{"field":"x","type":"quantitative","axis":null},"y":{"field":"y","type":"quantitative","axis":null},"text":{"field":"t"},"fill":{"field":"g","type":"nominal","scale":{"domain":["before","after"],"range":["#000000","#ff0000"]},"legend":null}}},
   {"data":{"name":"Car"},"mark":{"type":"rule","strokeWidth":1.2},
    "encoding":{"x":{"field":"x","type":"quantitative","axis":null},"y":{"field":"y","type":"quantitative","axis":null},"x2":{"field":"x2"},"y2":{"field":"y2"},"stroke":{"field":"g","type":"nominal","scale":{"domain":["before","after"],"range":["#000000","#ff0000"]},"legend":null}}},
   {"data":{"name":"Car"},"transform":[{"filter":"datum.g == 'before'"}],"mark":{"type":"point","shape":"triangle","angle":90,"filled":true,"size":40,"color":"#000000","opacity":1},
    "encoding":{"x":{"field":"x2","type":"quantitative","axis":null},"y":{"field":"y2","type":"quantitative","axis":null}}},
   {"data":{"name":"Car"},"transform":[{"filter":"datum.g == 'after'"}],"mark":{"type":"point","shape":"triangle","angle":214,"filled":true,"size":40,"color":"#ff0000","opacity":1},
    "encoding":{"x":{"field":"x2","type":"quantitative","axis":null},"y":{"field":"y2","type":"quantitative","axis":null}}}
  ]},
 {"width":402,"height":329,
  "resolve":{"axis":{"x":"independent","y":"independent"}},
  "layer":[
   {"data":{"name":"D"},"mark":{"type":"line","interpolate":"monotone","strokeWidth":2.5},
    "encoding":{
     "x":{"field":"x","type":"quantitative","scale":{"domain":[427.5,455],"nice":false,"zero":false},"axis":{"orient":"bottom","values":[430,435,440,445,450,455],"title":"Wavelength(nm)","tickSize":-5,"labelPadding":13.5,"titlePadding":9}},
     "y":{"field":"y","type":"quantitative","scale":{"domain":[-7,703],"nice":false,"zero":false},"axis":{"orient":"left","values":[0,100,200,300,400,500,600,700],"title":"FL intensity/a.u.","tickSize":-5,"labelPadding":11,"titlePadding":3}},
     "color":{"field":"s","type":"nominal","scale":{"domain":["a","b","c","d","e","f","g","h","i"],"range":["#000000","#ff0000","#00ee00","#0000ff","#00ffff","#ff00ff","#ffff00","#808000","#000080"]},"legend":{"legendX":334,"legendY":33,"symbolSize":144,"symbolStrokeWidth":2.5,"labelOffset":18,"rowPadding":4.1}}}},
   {"data":{"values":[{"x":430.57,"y":628,"t":"(D)"}]},"mark":{"type":"text","font":"Liberation Sans","fontSize":22,"color":"#000000"},
    "encoding":{"x":{"field":"x","type":"quantitative","axis":{"orient":"bottom","values":[432.5,437.5,442.5,447.5,452.5],"labels":false,"title":null,"tickSize":-4}},"y":{"field":"y","type":"quantitative","axis":{"orient":"left","values":[50,150,250,350,450,550,650],"labels":false,"title":null,"tickSize":-3}},"text":{"field":"t"}}}
  ]}
]
}
